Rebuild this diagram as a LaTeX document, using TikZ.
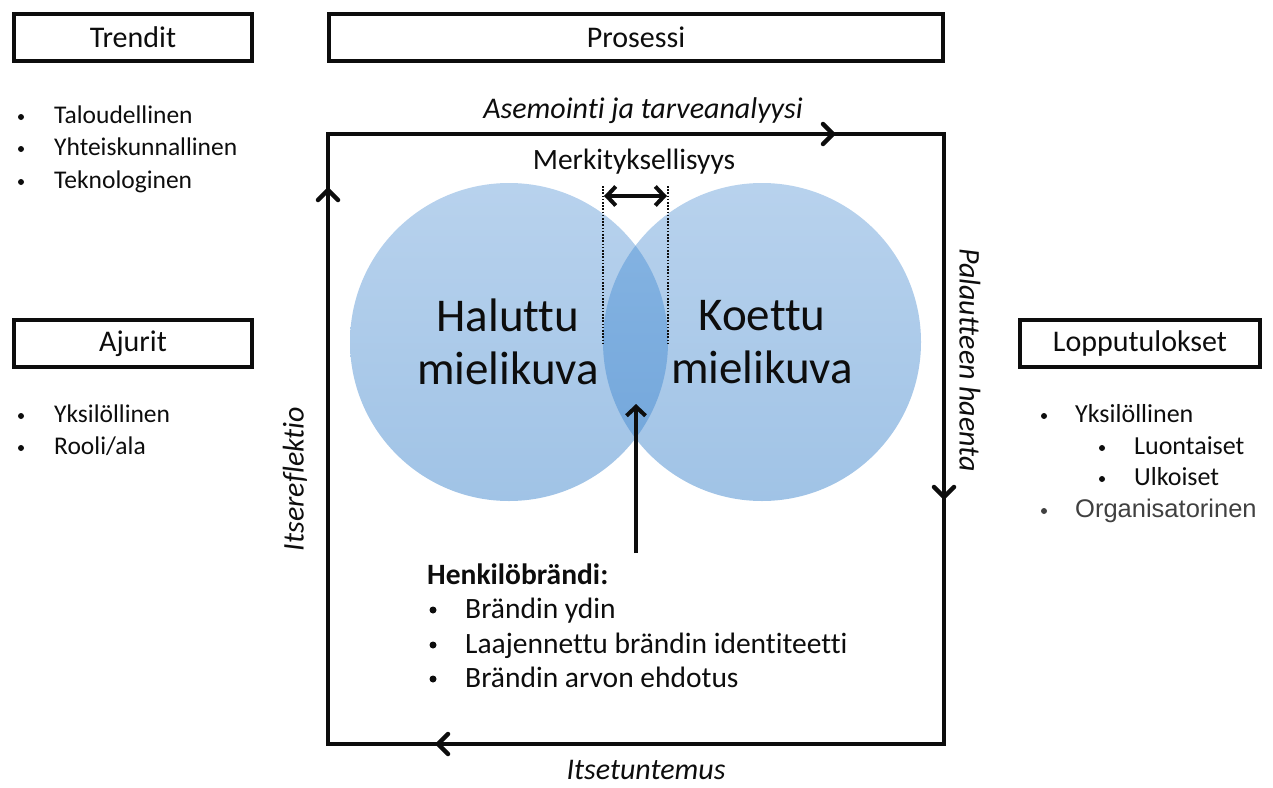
\documentclass[tikz,border=0pt]{standalone}
\usepackage{fontspec}
\setmainfont[Ligatures=CommonOff]{Carlito}
\newfontfamily\arialfam{Liberation Sans}
\usetikzlibrary{arrows.meta}
\definecolor{txt}{RGB}{13,13,13}
\definecolor{ctop}{RGB}{184,210,237}
\definecolor{cbot}{RGB}{160,195,230}
\definecolor{ltop}{RGB}{135,181,227}
\definecolor{lbot}{RGB}{113,165,218}
\begin{document}
\begin{tikzpicture}[x=1pt,y=-1pt,
  >={Straight Barb[length=9pt,width=19pt]},
  titlebox/.style={draw=txt, line width=4pt, inner sep=0pt, minimum width=238pt, minimum height=47pt, font=\fontsize{30}{36}\selectfont, text=txt},
  item/.style={anchor=base west, inner sep=0pt, font=\fontsize{25.5}{30}\selectfont, text=txt},
  rsitem/.style={item, font=\fontsize{26}{30}\selectfont},
  hitem/.style={item, font=\fontsize{29.5}{34}\selectfont},
  bul/.style={circle, fill=txt, inner sep=0pt, minimum size=6pt},
  hbul/.style={circle, fill=txt, inner sep=0pt, minimum size=7pt},
  itlabel/.style={inner sep=0pt, font=\fontsize{30}{36}\selectfont\itshape, text=txt},
  bigtxt/.style={align=center, inner sep=0pt, font=\fontsize{47}{53}\selectfont, text=txt},
  thick line/.style={line width=4pt, draw=txt},
  chev/.style={line width=4.5pt, draw=txt, line cap=round, line join=round},
  dotline/.style={line width=1.6pt, draw=txt, dash pattern=on 1.6pt off 1.6pt}
]
\useasboundingbox (0,0) rectangle (1273,787);

% title boxes
\node[titlebox] (trendit) at (133,37.5) {Trendit};
\node[titlebox, minimum width=614pt] (prosessi) at (636,37.5) {Prosessi};
\node[titlebox] (ajurit) at (133,343.5) {Ajurit};
\node[titlebox, minimum width=240pt] (loppu) at (1140,343.5) {Lopputulokset};

% Trendit list
\node[bul] (tb1) at (21,117) {}; \node[item] (t1) at (54,123) {Taloudellinen};
\node[bul] (tb2) at (21,149) {}; \node[item] (t2) at (54,155) {Yhteiskunnallinen};
\node[bul] (tb3) at (21,182) {}; \node[item] (t3) at (54,188) {Teknologinen};

% Ajurit list
\node[bul] (ab1) at (21,416) {}; \node[item] (a1) at (54,422) {Yksilöllinen};
\node[bul] (ab2) at (21,448) {}; \node[item] (a2) at (54,454) {Rooli/ala};

% Lopputulokset list
\node[bul] (lb1) at (1044,416) {}; \node[rsitem] (l1) at (1075,422) {Yksilöllinen};
\node[bul] (lb2) at (1102,448) {}; \node[rsitem] (l2) at (1134,454) {Luontaiset};
\node[bul] (lb3) at (1102,479) {}; \node[rsitem] (l3) at (1134,485) {Ulkoiset};
\node[bul, fill=black!75] (lb4) at (1044,511) {};
\node[item, text=black!75, font=\fontsize{25.5}{30}\arialfam] (l4) at (1075,517) {Organisatorinen};

% circles
\shade[top color=ctop, bottom color=cbot] (509,342) circle[radius=159pt];
\shade[top color=ctop, bottom color=cbot] (762,342) circle[radius=159pt];
\begin{scope}
  \clip (509,342) circle[radius=159pt];
  \shade[top color=ltop, bottom color=lbot] (762,342) circle[radius=159pt];
\end{scope}
\node[bigtxt] (halu) at (508,342) {Haluttu\\mielikuva};
\node[bigtxt] (koet) at (762,342) {Koettu\\mielikuva};

% process square
\coordinate (tl) at (328,134);
\coordinate (tr) at (944,134);
\coordinate (br) at (944,744);
\coordinate (bl) at (328,744);
\draw[thick line, line join=miter] (tl) -- (tr) -- (br) -- (bl) -- cycle;
% direction chevrons on the square
\coordinate (ctop) at (833,134);
\coordinate (cright) at (944,497);
\coordinate (cbottom) at (438,744);
\coordinate (cleft) at (328,190);
\draw[chev] ([shift={(-10,-10)}]ctop) -- (ctop) -- ([shift={(-10,10)}]ctop);
\draw[chev] ([shift={(-10,-10)}]cright) -- (cright) -- ([shift={(10,-10)}]cright);
\draw[chev] ([shift={(10,-10)}]cbottom) -- (cbottom) -- ([shift={(10,10)}]cbottom);
\draw[chev] ([shift={(-10,10)}]cleft) -- (cleft) -- ([shift={(10,10)}]cleft);

\node[itlabel] (asem) at (643,111) {Asemointi ja tarveanalyysi};
\node[itlabel, rotate=-90] (pal) at (970,360) {Palautteen haenta};
\node[itlabel, anchor=base] (itsetu) at (646,779) {Itsetuntemus};
\node[itlabel, rotate=90] (itsere) at (295,479) {Itsereflektio};

% Merkityksellisyys
\node[inner sep=0pt, font=\fontsize{29.5}{34}\selectfont, text=txt] (merk) at (634,162) {Merkityksellisyys};
\coordinate (d1t) at (603,186); \coordinate (d1b) at (603,343);
\coordinate (d2t) at (668,186); \coordinate (d2b) at (668,343);
\draw[dotline] (d1t) -- (d1b);
\draw[dotline] (d2t) -- (d2b);
\coordinate (m1) at (604,196); \coordinate (m2) at (667,196);
\draw[thick line, <->] (m1) -- (m2);

% Henkilöbrändi
\coordinate (upS) at (636,553);
\coordinate (upE) at (636,404);
\draw[thick line, ->] (upS) -- (upE);
\node[hitem, font=\fontsize{29.5}{34}\selectfont\bfseries] (hb) at (427,584) {Henkilöbrändi:};
\node[hbul] (hb1) at (433,610) {}; \node[hitem] (h1) at (465,618) {Brändin ydin};
\node[hbul] (hb2) at (433,645) {}; \node[hitem] (h2) at (465,653) {Laajennettu brändin identiteetti};
\node[hbul] (hb3) at (433,679) {}; \node[hitem] (h3) at (465,687) {Brändin arvon ehdotus};
\end{tikzpicture}
\end{document}
